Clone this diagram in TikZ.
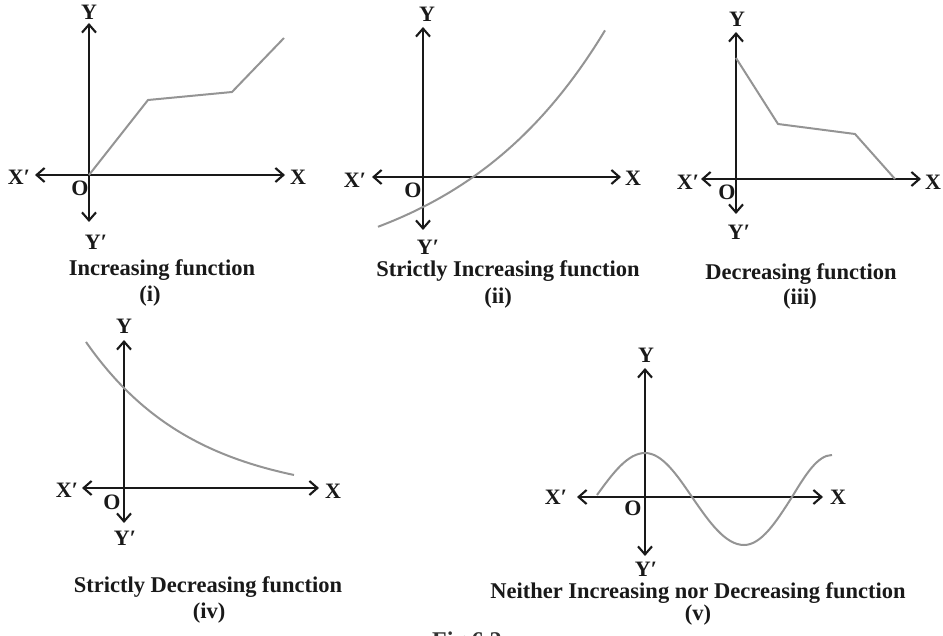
\documentclass[tikz,border=0pt]{standalone}
\usepackage{fontspec}
\setmainfont{Liberation Serif}
\usetikzlibrary{arrows.meta}
\begin{document}
\begin{tikzpicture}[x=1pt,y=-1pt,
  axis/.style={line width=2.1pt, draw=black!90, {Straight Barb[length=8pt,width=14pt,line width=2.1pt]}-{Straight Barb[length=8pt,width=14pt,line width=2.1pt]}},
  curve/.style={line width=2pt, draw=black!42},
  lab/.style={font=\fontsize{22}{22}\selectfont\bfseries, inner sep=0pt, text=black!90},
  captext/.style={font=\fontsize{22.5}{22.5}\selectfont\bfseries, inner sep=0pt, text=black!90}]
\useasboundingbox (0,0) rectangle (943,636);
\clip (0,0) rectangle (943,636);

% ---------- (i) ----------
\coordinate (o1) at (89,175);
\coordinate (t1) at (89,23);  \coordinate (b1) at (89,222);
\coordinate (l1) at (35,175); \coordinate (r1) at (285,175);
\draw[axis] (l1) -- (r1);
\draw[axis] (b1) -- (t1);
\coordinate (p1a) at (148,100); \coordinate (p1b) at (232,92); \coordinate (p1c) at (284,38);
\draw[curve] (o1) -- (p1a) -- (p1b) -- (p1c);
\node[lab] (Y1) at (89,12) {Y};
\node[lab] (Yp1) at (96,242) {Y′};
\node[lab] (Xp1) at (19,177) {X′};
\node[lab] (X1) at (298,177) {X};
\node[lab] (O1) at (80,188) {O};
\node[captext] (c1) at (162,270) {Increasing function};
\node[captext] (n1) at (150,296) {(i)};

% ---------- (ii) ----------
\coordinate (o2) at (423,177);
\coordinate (t2) at (423,27);  \coordinate (b2) at (423,230);
\coordinate (l2) at (372,177); \coordinate (r2) at (621,177);
\draw[axis] (l2) -- (r2);
\draw[axis] (b2) -- (t2);
\draw[curve] plot[domain=-45:182, samples=80] ({423+\x},{177-(78*exp(0.0065*\x)-108)});
\node[lab] (Y2) at (427,14) {Y};
\node[lab] (Yp2) at (428,247) {Y′};
\node[lab] (Xp2) at (355,180) {X′};
\node[lab] (X2) at (633,178) {X};
\node[lab] (O2) at (413,190) {O};
\node[captext] (c2) at (508,271) {Strictly Increasing function};
\node[captext] (n2) at (498,298) {(ii)};

% ---------- (iii) ----------
\coordinate (o3) at (736,179);
\coordinate (t3) at (736,32);  \coordinate (b3) at (736,214);
\coordinate (l3) at (701,179); \coordinate (r3) at (921,179);
\draw[axis] (l3) -- (r3);
\draw[axis] (b3) -- (t3);
\coordinate (p3a) at (736,58); \coordinate (p3b) at (778,124);
\coordinate (p3c) at (855,134); \coordinate (p3d) at (895,179);
\draw[curve] (p3a) -- (p3b) -- (p3c) -- (p3d);
\node[lab] (Y3) at (737,19) {Y};
\node[lab] (Yp3) at (739,232) {Y′};
\node[lab] (Xp3) at (688,182) {X′};
\node[lab] (X3) at (933,182) {X};
\node[lab] (O3) at (727,192) {O};
\node[captext] (c3) at (801,274) {Decreasing function};
\node[captext] (n3) at (800,299) {(iii)};

% ---------- (iv) ----------
\coordinate (o4) at (124,488);
\coordinate (t4) at (124,340); \coordinate (b4) at (124,523);
\coordinate (l4) at (82,488);  \coordinate (r4) at (319,488);
\draw[axis] (l4) -- (r4);
\draw[axis] (b4) -- (t4);
\draw[curve] plot[domain=-38:170, samples=80] ({124+\x},{488-(110*exp(-0.0092*\x)-10)});
\node[lab] (Y4) at (124,326) {Y};
\node[lab] (Yp4) at (125,538) {Y′};
\node[lab] (Xp4) at (67,490) {X′};
\node[lab] (X4) at (333,491) {X};
\node[lab] (O4) at (112,502) {O};
\node[captext] (c4) at (208,587) {Strictly Decreasing function};
\node[captext] (n4) at (209,613) {(iv)};

% ---------- (v) ----------
\coordinate (o5) at (645,497);
\coordinate (t5) at (645,368); \coordinate (b5) at (645,556);
\coordinate (l5) at (577,497); \coordinate (r5) at (823,497);
\draw[axis] (l5) -- (r5);
\draw[axis] (b5) -- (t5);
\coordinate (s0) at (597,495); \coordinate (s1) at (645,453); \coordinate (s2) at (692,497);
\coordinate (s3) at (744,545); \coordinate (s4) at (792,497); \coordinate (s5) at (832,455);
\draw[curve] (s0) sin (s1) cos (s2) sin (s3) cos (s4) sin (s5);
\node[lab] (Y5) at (646,355) {Y};
\node[lab] (Yp5) at (646,569) {Y′};
\node[lab] (Xp5) at (556,497) {X′};
\node[lab] (X5) at (838,497) {X};
\node[lab] (O5) at (633,508) {O};
\node[captext] (c5) at (698,593) {Neither Increasing nor Decreasing function};
\node[captext] (n5) at (698,615) {(v)};

% ---------- figure caption (cut off at bottom, as in the reference) ----------
\node[font=\fontsize{24}{24}\selectfont\bfseries, inner sep=0pt, anchor=north west, text=black!80] (fig) at (432,632) {Fig 6.2};
\end{tikzpicture}
\end{document}
